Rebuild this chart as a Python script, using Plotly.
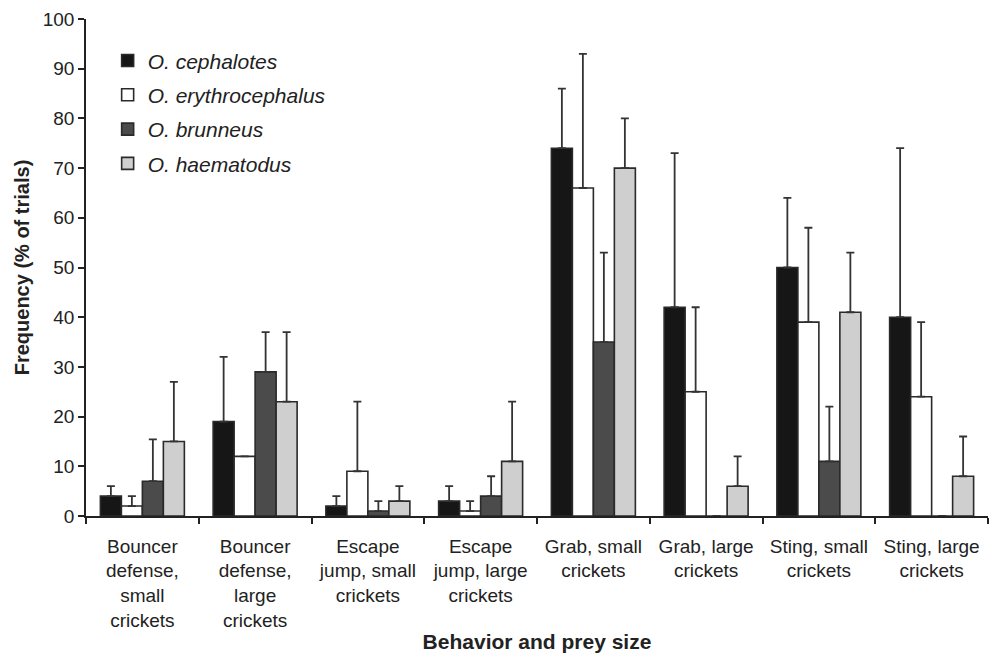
import plotly.graph_objects as go

# Behaviour / prey-size categories (x axis)
categories = [
    "Bouncer<br>defense,<br>small<br>crickets",
    "Bouncer<br>defense,<br>large<br>crickets",
    "Escape<br>jump, small<br>crickets",
    "Escape<br>jump, large<br>crickets",
    "Grab, small<br>crickets",
    "Grab, large<br>crickets",
    "Sting, small<br>crickets",
    "Sting, large<br>crickets",
]

species = ["O. cephalotes", "O. erythrocephalus", "O. brunneus", "O. haematodus"]

# Mean frequency (% of trials) per species
cephalotes = [4, 19, 2, 3, 74, 42, 50, 40]
erythrocephalus = [2, 12, 9, 1, 66, 25, 39, 24]
brunneus = [7, 29, 1, 4, 35, 0, 11, 0]
haematodus = [15, 23, 3, 11, 70, 6, 41, 8]

# Upper end of each error bar (% of trials); None = no bar drawn
cephalotes_top = [6, 32, 4, 6, 86, 73, 64, 74]
erythrocephalus_top = [4, 12, 23, 3, 93, 42, 58, 39]
brunneus_top = [15.4, 37, 3, 8, 53, None, 22, None]
haematodus_top = [27, 37, 6, 23, 80, 12, 53, 16]

y_ticks = [0, 10, 20, 30, 40, 50, 60, 70, 80, 90, 100]

fills = ["#161616", "#ffffff", "#4b4b4b", "#cfcfcf"]
outline = "#2a2a2a"
font_family = "Liberation Sans, Arial, Helvetica, sans-serif"
ink = "#222222"

series = [
    (cephalotes, cephalotes_top),
    (erythrocephalus, erythrocephalus_top),
    (brunneus, brunneus_top),
    (haematodus, haematodus_top),
]

fig = go.Figure()
for i, (name, (vals, tops)) in enumerate(zip(species, series)):
    plus = [None if t is None else round(t - v, 2) for v, t in zip(vals, tops)]
    fig.add_trace(go.Bar(
        name=name,
        x=categories,
        y=vals,
        legendgroup=name,
        marker=dict(color=fills[i], line=dict(color=outline, width=1.6)),
        error_y=dict(
            type="data",
            symmetric=False,
            array=plus,
            arrayminus=[0] * len(vals),
            color="#333333",
            thickness=1.8,
            width=4,
        ),
    ))

fig.update_layout(
    width=992,
    height=653,
    margin=dict(l=86, r=4, t=19, b=137),
    paper_bgcolor="white",
    plot_bgcolor="white",
    barmode="group",
    bargap=0.255,
    bargroupgap=0,
    font=dict(family=font_family, size=19, color=ink),
    showlegend=True,
    legend=dict(
        x=0.024,
        y=0.957,
        xanchor="left",
        yanchor="top",
        bgcolor="rgba(0,0,0,0)",
        font=dict(family=font_family, size=21, color=ink, style="italic"),
        tracegroupgap=4,
        itemwidth=30,
    ),
    xaxis=dict(
        type="category",
        range=[-0.5, 7.5],
        automargin=False,
        showline=True,
        linecolor=ink,
        linewidth=1.5,
        ticks="outside",
        tickson="boundaries",
        ticklen=6,
        tickcolor=ink,
        tickwidth=1.5,
        ticklabelstandoff=12,
        showgrid=False,
        tickfont=dict(family=font_family, size=19, color=ink),
        title=dict(
            text="<b>Behavior and prey size</b>",
            font=dict(family=font_family, size=21, color=ink),
            standoff=6,
        ),
    ),
    yaxis=dict(
        range=[0, 100],
        tickvals=y_ticks,
        automargin=False,
        showline=True,
        linecolor=ink,
        linewidth=1.5,
        ticks="outside",
        ticklen=6,
        tickcolor=ink,
        tickwidth=1.5,
        showgrid=False,
        zeroline=False,
        tickfont=dict(family=font_family, size=19, color=ink),
        title=dict(
            text="<b>Frequency (% of trials)</b>",
            font=dict(family=font_family, size=20, color=ink),
            standoff=8,
        ),
    ),
)

fig.write_html("out.html")
